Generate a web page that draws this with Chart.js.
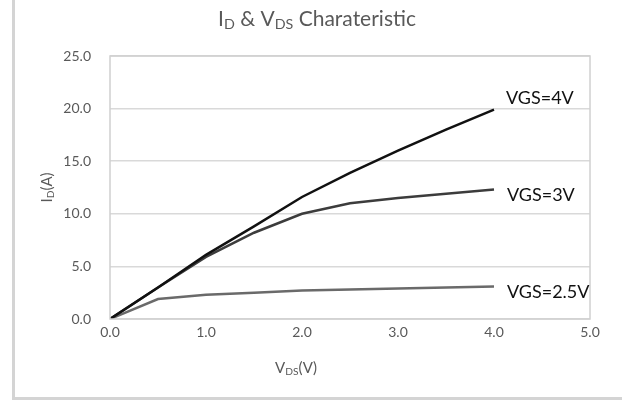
<!DOCTYPE html>
<html>
<head>
<meta charset="utf-8">
<script src="https://cdn.jsdelivr.net/npm/chart.js@4"></script>
<style>
  html, body { margin: 0; padding: 0; background: #fff; }
  #wrap { width: 622px; height: 400px; position: relative; }
</style>
</head>
<body>
<div id="wrap"><canvas id="ivChart" width="622" height="400"></canvas></div>
<script>
/* datos */
const vds = [0, 0.5, 1.0, 1.5, 2.0, 2.5, 3.0, 3.5, 4.0];
const idVgs4 = [0, 3.0, 6.1, 8.8, 11.6, 13.9, 16.0, 18.0, 19.9];
const idVgs3 = [0, 3.0, 5.9, 8.2, 10.0, 11.0, 11.5, 11.9, 12.3];
const idVgs25 = [0, 1.9, 2.3, 2.5, 2.7, 2.8, 2.9, 3.0, 3.1];
const seriesNames = ['VGS=4V', 'VGS=3V', 'VGS=2.5V'];
const xTicks = [0, 1, 2, 3, 4, 5];
const yTicks = [0, 5, 10, 15, 20, 25];

const FONT = 'Lato, "Open Sans", sans-serif';
const TEXT_GRAY = '#595959';

function toPoints(ys) {
    return vds.map((v, i) => ({ x: v, y: ys[i] }));
}

// texto con subindices (I_D, V_DS)
function drawParts(ctx, parts, x, y, size) {
    let cx = x;
    parts.forEach(p => {
        const s = p.sub ? size * 0.68 : size;
        ctx.font = s + 'px ' + FONT;
        ctx.fillText(p.t, cx, p.sub ? y + size * 0.28 : y);
        cx += ctx.measureText(p.t).width;
    });
}
function partsWidth(ctx, parts, size) {
    let w = 0;
    parts.forEach(p => {
        ctx.font = (p.sub ? size * 0.68 : size) + 'px ' + FONT;
        w += ctx.measureText(p.t).width;
    });
    return w;
}

const decorPlugin = {
    id: 'decor',
    beforeDraw(chart) {
        const ctx = chart.ctx;
        ctx.save();
        // borde exterior
        ctx.strokeStyle = '#d4d4d4';
        ctx.lineWidth = 3;
        ctx.strokeRect(13.5, -5, 700, 403.5);
        ctx.restore();
    },
    afterDatasetsDraw(chart) {
        const ctx = chart.ctx;
        const a = chart.chartArea;
        ctx.save();
        // borde del area del grafico
        ctx.strokeStyle = '#d0d0d0';
        ctx.lineWidth = 1.5;
        ctx.strokeRect(a.left, a.top, a.right - a.left, a.bottom - a.top);

        ctx.fillStyle = TEXT_GRAY;
        ctx.textBaseline = 'middle';

        // titulo
        const title = [{ t: 'I' }, { t: 'D', sub: true }, { t: ' & V' }, { t: 'DS', sub: true }, { t: ' Charateristic' }];
        const tw = partsWidth(ctx, title, 21);
        drawParts(ctx, title, 317 - tw / 2, 19, 21);

        // titulo eje x
        const xt = [{ t: 'V' }, { t: 'DS', sub: true }, { t: '(V)' }];
        const xw = partsWidth(ctx, xt, 15);
        drawParts(ctx, xt, 296 - xw / 2, 368, 15);

        // titulo eje y
        const yt = [{ t: 'I' }, { t: 'D', sub: true }, { t: '(A)' }];
        const yw = partsWidth(ctx, yt, 15);
        ctx.translate(47, (a.top + a.bottom) / 2);
        ctx.rotate(-Math.PI / 2);
        drawParts(ctx, yt, -yw / 2, 0, 15);
        ctx.restore();

        // etiquetas de cada curva
        ctx.save();
        ctx.fillStyle = '#111';
        ctx.font = '18px ' + FONT;
        ctx.textBaseline = 'middle';
        const xs = chart.scales.x, ys = chart.scales.y;
        const offsets = [[12, -11], [13, 6], [13, 6]];
        chart.data.datasets.forEach((ds, i) => {
            const last = ds.data[ds.data.length - 1];
            ctx.fillText(seriesNames[i], xs.getPixelForValue(last.x) + offsets[i][0], ys.getPixelForValue(last.y) + offsets[i][1]);
        });
        ctx.restore();
    }
};

const ctx = document.getElementById('ivChart').getContext('2d');
new Chart(ctx, {
    type: 'scatter',
    data: {
        datasets: [
            { label: seriesNames[0], data: toPoints(idVgs4), borderColor: '#111111', borderWidth: 2.5 },
            { label: seriesNames[1], data: toPoints(idVgs3), borderColor: '#3c3c3c', borderWidth: 2.5 },
            { label: seriesNames[2], data: toPoints(idVgs25), borderColor: '#6a6a6a', borderWidth: 2.5 }
        ].map(d => Object.assign(d, { showLine: true, pointRadius: 0, tension: 0, fill: false }))
    },
    options: {
        responsive: false,
        animation: false,
        layout: { padding: { left: 0, top: 56, right: 32, bottom: 0 } },
        plugins: {
            legend: { display: false },
            tooltip: { enabled: false }
        },
        scales: {
            x: {
                type: 'linear',
                min: 0,
                max: 5,
                afterBuildTicks: s => { s.ticks = xTicks.map(v => ({ value: v })); },
                afterFit: s => { s.height = 81; },
                grid: { display: false, drawTicks: false },
                border: { display: false },
                ticks: {
                    color: TEXT_GRAY,
                    font: { family: FONT, size: 14 },
                    padding: 5,
                    callback: v => v.toFixed(1)
                }
            },
            y: {
                min: 0,
                max: 25,
                afterBuildTicks: s => { s.ticks = yTicks.map(v => ({ value: v })); },
                afterFit: s => { s.width = 110; },
                grid: { color: '#d9d9d9', lineWidth: 1.5, drawTicks: false },
                border: { display: false },
                ticks: {
                    color: TEXT_GRAY,
                    font: { family: FONT, size: 14 },
                    padding: 19,
                    callback: v => v.toFixed(1)
                }
            }
        }
    },
    plugins: [decorPlugin]
});
</script>
</body>
</html>
